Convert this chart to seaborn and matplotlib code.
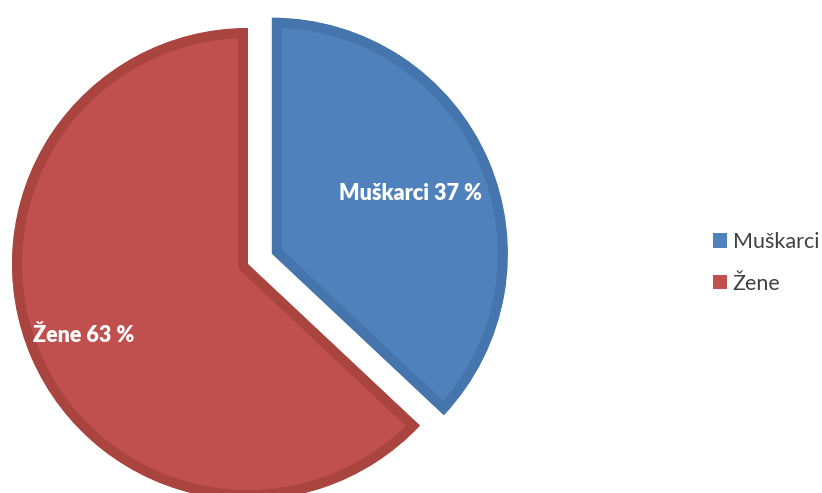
import matplotlib.pyplot as plt
import seaborn as sns
import numpy as np

# data
labels = ['Muškarci', 'Žene']
shares = [37, 63]
explode = [0.11, 0.0]
fills = ['#4F81BD', '#C0504D']
edges = ['#4674AC', '#A9443F']

sns.set_theme(style='white')
plt.rcParams['font.family'] = ['Lato', 'DejaVu Sans']

fig = plt.figure(figsize=(8.22, 4.93), dpi=100)
ax = fig.add_axes([0, 0, 1, 1])

wedges, _ = ax.pie(shares, colors=fills, explode=explode, startangle=90,
                   counterclock=False, radius=1)
# place the pie: radius 236 px, centre at (248, 264) px from top-left
R = 236
ax.set_xlim(-248 / R, (822 - 248) / R)
ax.set_ylim(-(493 - 264) / R, 264 / R)
ax.set_aspect('equal')
ax.axis('off')

# darker inset border, like the office-style pie
for w, ec in zip(wedges, edges):
    w.set_edgecolor(ec)
    w.set_linewidth(14.4)
    w.set_clip_on(True)
    w.set_clip_path(w)

# labels inside the slices
label_dist = [0.64, 0.76]
for w, lab, s, d in zip(wedges, labels, shares, label_dist):
    ang = np.deg2rad((w.theta1 + w.theta2) / 2)
    cx, cy = w.center
    ax.text(cx + d * w.r * np.cos(ang), cy + d * w.r * np.sin(ang),
            f'{lab} {s} %', color='white', fontsize=15.5, fontweight='heavy',
            ha='center', va='center')

leg = fig.legend(wedges, labels, loc='center left', bbox_to_anchor=(0.867, 0.467),
                 frameon=False, fontsize=15.5, handlelength=0.65, handleheight=0.65,
                 handletextpad=0.28, labelspacing=1.0, borderpad=0, borderaxespad=0)
for t in leg.get_texts():
    t.set_color('#404040')
for h in leg.legend_handles:
    h.set_edgecolor('none')
    h.set_linewidth(0)

fig.savefig('out.png', dpi=100)
